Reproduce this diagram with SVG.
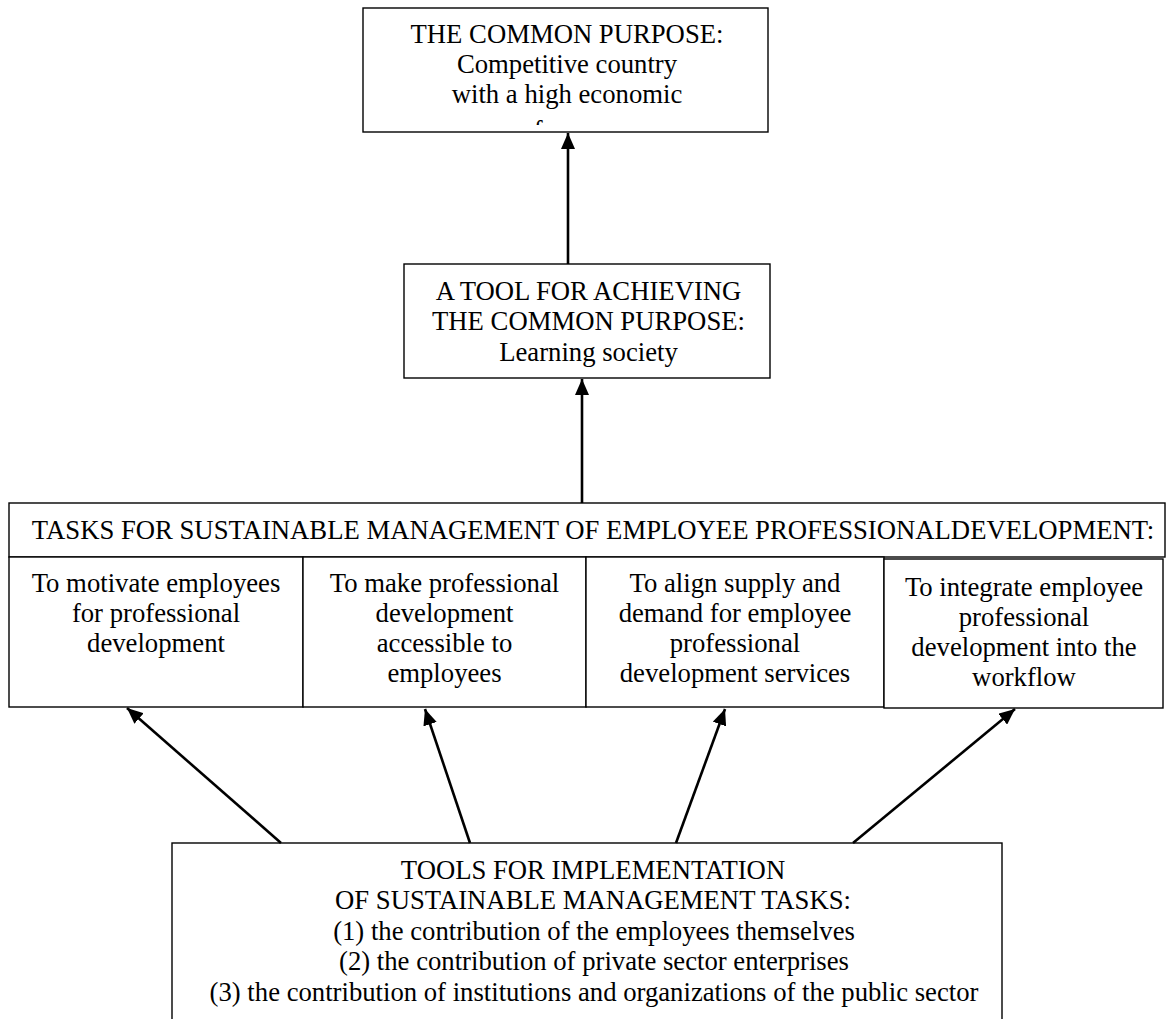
<svg xmlns="http://www.w3.org/2000/svg" width="1172" height="1019" viewBox="0 0 1172 1019">
<style>
.box{fill:#fff;stroke:#000;stroke-width:1.4}
.t{font-family:"Liberation Serif","Times New Roman",serif;font-size:26.7px;fill:#000;text-anchor:middle}
.conn line{stroke:#000;stroke-width:2.6;marker-end:url(#ah)}
</style>
<defs>
<marker id="ah" markerUnits="userSpaceOnUse" markerWidth="17" markerHeight="14" refX="16" refY="7" orient="auto">
<path d="M0,0 L16,7 L0,14 z" fill="#000"/>
</marker>
<clipPath id="clipTop"><rect x="363" y="8" width="405" height="117"/></clipPath>
</defs>
<rect width="1172" height="1019" fill="#fff"/>
<g id="purpose">
<rect class="box" x="363" y="8" width="405" height="124"/>
<g clip-path="url(#clipTop)">
<text class="t" x="567" y="43">THE COMMON PURPOSE:</text>
<text class="t" x="567" y="73">Competitive country</text>
<text class="t" x="567" y="103">with a high economic</text>
<text class="t" x="567" y="139">performance</text>
</g>
</g>
<g id="tool">
<rect class="box" x="404" y="264" width="366" height="114"/>
<text class="t" x="588.5" y="300">A TOOL FOR ACHIEVING</text>
<text class="t" x="588.5" y="330">THE COMMON PURPOSE:</text>
<text class="t" x="588.5" y="361">Learning society</text>
</g>
<g id="tasks">
<rect class="box" x="9" y="503" width="1156" height="54"/>
<text class="t" x="593" y="539">TASKS FOR SUSTAINABLE MANAGEMENT OF EMPLOYEE PROFESSIONALDEVELOPMENT:</text>
</g>
<g id="task1">
<rect class="box" x="9" y="557" width="294" height="150"/>
<text class="t" x="156" y="592">To motivate employees</text>
<text class="t" x="156" y="622">for professional</text>
<text class="t" x="156" y="652">development</text>
</g>
<g id="task2">
<rect class="box" x="303" y="557" width="283" height="150"/>
<text class="t" x="444.5" y="592">To make professional</text>
<text class="t" x="444.5" y="622">development</text>
<text class="t" x="444.5" y="652">accessible to</text>
<text class="t" x="444.5" y="682">employees</text>
</g>
<g id="task3">
<rect class="box" x="586" y="557" width="298" height="150"/>
<text class="t" x="735" y="592">To align supply and</text>
<text class="t" x="735" y="622">demand for employee</text>
<text class="t" x="735" y="652">professional</text>
<text class="t" x="735" y="682">development services</text>
</g>
<g id="task4">
<rect class="box" x="884" y="559" width="279" height="149"/>
<text class="t" x="1024" y="596">To integrate employee</text>
<text class="t" x="1024" y="626">professional</text>
<text class="t" x="1024" y="656">development into the</text>
<text class="t" x="1024" y="686">workflow</text>
</g>
<g id="implementation">
<rect class="box" x="172" y="843" width="830" height="190"/>
<text class="t" x="593" y="879">TOOLS FOR IMPLEMENTATION</text>
<text class="t" x="593" y="909">OF SUSTAINABLE MANAGEMENT TASKS:</text>
<text class="t" x="594" y="940">(1) the contribution of the employees themselves</text>
<text class="t" x="594" y="970">(2) the contribution of private sector enterprises</text>
<text class="t" x="594" y="1001">(3) the contribution of institutions and organizations of the public sector</text>
</g>
<g id="connectors" class="conn">
<line x1="568" y1="264" x2="568" y2="133"/>
<line x1="582" y1="503" x2="582" y2="379"/>
<line x1="281" y1="843" x2="127" y2="708"/>
<line x1="470" y1="843" x2="425" y2="709"/>
<line x1="676" y1="843" x2="725" y2="709"/>
<line x1="853" y1="843" x2="1015" y2="709"/>
</g>
</svg>
